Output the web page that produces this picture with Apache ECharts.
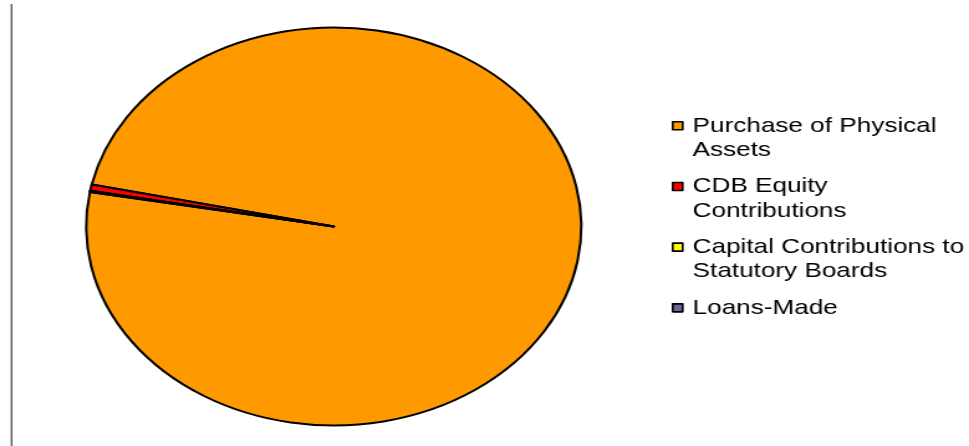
<!DOCTYPE html>
<html>
<head>
<meta charset="utf-8">
<script src="https://cdn.jsdelivr.net/npm/echarts@6/dist/echarts.min.js"></script>
<style>
  html, body { margin: 0; padding: 0; background: #fff; overflow: hidden; }
  #wrap { width: 969px; height: 446px; overflow: hidden; position: relative; }
  #chart { width: 779px; height: 446px; transform: scaleX(1.2439); transform-origin: 0 0; }
</style>
</head>
<body>
<div id="wrap"><div id="chart"></div></div>
<script>
const categories = [
  'Purchase of Physical Assets',
  'CDB Equity Contributions',
  'Capital Contributions to Statutory Boards',
  'Loans-Made'
];
const legendLabels = [
  'Purchase of Physical\nAssets',
  'CDB Equity\nContributions',
  'Capital Contributions to\nStatutory Boards',
  'Loans-Made'
];
const values = [99.4, 0.5, 0.05, 0.05];
const colors = ['#FF9900', '#FF0000', '#FFFF00', '#666699'];

const chart = echarts.init(document.getElementById('chart'), null, { renderer: 'canvas' });
const labelMap = {};
categories.forEach((c, i) => {
  // leading blank line so the first text line sits level with the legend icon
  const lines = legendLabels[i].split('\n');
  labelMap[c] = '\n' + lines.join('\n') + (lines.length === 1 ? '\n' : '');
});

chart.setOption({
  animation: false,
  backgroundColor: '#ffffff',
  color: colors,
  graphic: [{
    type: 'line',
    shape: { x1: 9.245, y1: 4, x2: 9.245, y2: 446 },
    style: { stroke: '#000', lineWidth: 0.9 }
  }],
  legend: {
    orient: 'vertical',
    left: 540,
    top: 89,
    padding: 0,
    itemGap: -12.8,
    itemWidth: 8,
    itemHeight: 8,
    icon: 'rect',
    selectedMode: false,
    itemStyle: { borderColor: '#000', borderWidth: 1.6 },
    formatter: function (name) { return labelMap[name]; },
    textStyle: {
      fontFamily: 'Liberation Sans, Arial, sans-serif',
      fontSize: 21,
      lineHeight: 24.5,
      color: '#000',
      padding: [0, 0, 0, 3]
    },
    data: categories
  },
  series: [{
    type: 'pie',
    center: [268.3, 226.5],
    radius: 199,
    startAngle: 170,
    clockwise: false,
    minAngle: 0,
    avoidLabelOverlap: false,
    label: { show: false },
    labelLine: { show: false },
    emphasis: { disabled: true },
    itemStyle: { borderColor: '#000', borderWidth: 2 },
    data: categories.map((c, i) => ({ name: c, value: values[i] }))
  }]
});
</script>
</body>
</html>
